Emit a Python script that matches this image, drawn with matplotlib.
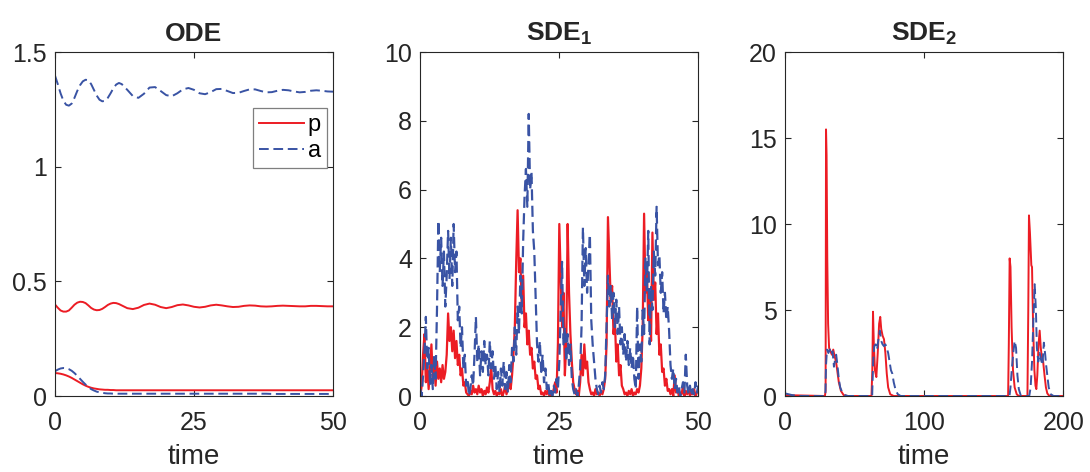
import matplotlib
matplotlib.use('Agg')
import matplotlib.pyplot as plt

plt.rcParams['font.family'] = ['Liberation Sans', 'DejaVu Sans']
plt.rcParams['mathtext.fontset'] = 'custom'
plt.rcParams['mathtext.rm'] = 'Liberation Sans'
plt.rcParams['mathtext.bf'] = 'Liberation Sans:bold'

# ---- ODE panel data ----
ode_t = [0, 0.5, 1, 1.5, 2, 2.5, 3, 3.5, 4, 4.5, 5, 5.5, 6, 6.5, 7, 7.5, 8, 8.5, 9, 9.5, 10, 10.5, 11, 11.5, 12,
         13, 14, 15, 16, 17, 18, 19, 20, 21, 22, 23, 24, 25, 26, 27, 28, 29, 30, 31, 32, 33, 34, 35, 36, 37, 38,
         39, 40, 41, 42, 43, 44, 45, 46, 47, 48, 49, 50]
ode_a_high = [1.397, 1.36, 1.32, 1.288, 1.27, 1.266, 1.275, 1.30, 1.33, 1.355, 1.372, 1.379, 1.377, 1.36, 1.335,
              1.31, 1.292, 1.285, 1.287, 1.30, 1.32, 1.342, 1.358, 1.365, 1.36,
              1.335, 1.308, 1.30, 1.318, 1.345, 1.347, 1.33, 1.312, 1.307, 1.32, 1.337, 1.343, 1.335, 1.32, 1.316,
              1.325, 1.338, 1.339, 1.33, 1.321, 1.322, 1.33, 1.337, 1.337, 1.33, 1.324, 1.325, 1.331, 1.335, 1.333,
              1.328, 1.324, 1.326, 1.331, 1.333, 1.331, 1.328, 1.327]
ode_p_high = [0.399, 0.385, 0.373, 0.368, 0.368, 0.373, 0.385, 0.398, 0.407, 0.411, 0.41, 0.405, 0.395, 0.384,
              0.377, 0.374, 0.375, 0.38, 0.388, 0.397, 0.403, 0.406, 0.405, 0.401, 0.395,
              0.383, 0.379, 0.385, 0.397, 0.403, 0.398, 0.388, 0.383, 0.388, 0.396, 0.399, 0.395, 0.389, 0.386,
              0.389, 0.395, 0.398, 0.395, 0.391, 0.388, 0.389, 0.393, 0.395, 0.394, 0.391, 0.39, 0.391, 0.393,
              0.394, 0.393, 0.392, 0.391, 0.391, 0.393, 0.393, 0.392, 0.391, 0.391]
ode_p_low = [0.10, 0.099, 0.097, 0.094, 0.09, 0.085, 0.079, 0.072, 0.065, 0.058, 0.051, 0.045, 0.04, 0.036, 0.033,
             0.031, 0.029, 0.028, 0.027, 0.027, 0.026, 0.026, 0.025, 0.025, 0.025,
             0.025, 0.025, 0.025, 0.025, 0.025, 0.025, 0.025, 0.025, 0.025, 0.025, 0.025, 0.025, 0.025, 0.025,
             0.025, 0.025, 0.025, 0.025, 0.025, 0.025, 0.025, 0.025, 0.025, 0.025, 0.025, 0.025, 0.025, 0.025,
             0.025, 0.025, 0.025, 0.025, 0.025, 0.025, 0.025, 0.025, 0.025, 0.025]
ode_a_low = [0.108, 0.115, 0.12, 0.122, 0.121, 0.117, 0.11, 0.10, 0.088, 0.075, 0.062, 0.05, 0.039, 0.03, 0.024,
             0.019, 0.016, 0.014, 0.012, 0.011, 0.011, 0.01, 0.01, 0.01, 0.01,
             0.01, 0.01, 0.01, 0.01, 0.01, 0.01, 0.01, 0.01, 0.01, 0.01, 0.01, 0.01, 0.01, 0.01,
             0.01, 0.01, 0.01, 0.01, 0.01, 0.01, 0.01, 0.01, 0.01, 0.01, 0.01, 0.01, 0.009, 0.009,
             0.009, 0.009, 0.009, 0.009, 0.009, 0.009, 0.009, 0.009, 0.009, 0.009]

# ---- SDE_1 panel data, every 0.25 time units from 0 to 50 ----
sde1_t = [i * 0.25 for i in range(201)]
sde1_p = [0.0, 0.3, 1.2, 1.8, 0.4, 0.9, 0.2, 0.8, 1.5, 0.5, 0.9, 0.3, 1.0, 0.5, 0.8, 0.4, 0.9, 0.5, 0.7, 1.2,
          2.4, 1.6, 2.0, 1.3, 1.9, 1.1, 1.6, 0.9, 1.2, 0.6, 0.8, 0.3, 0.4, 0.1, 0.05, 0.0, 0.15, 0.05, 0.3, 0.1,
          0.2, 0.05, 0.3, 0.1, 0.2, 0.0, 0.15, 0.05, 0.25, 0.1, 0.4, 0.85, 0.2, 0.05, 0.15, 0.0, 0.1, 0.05, 0.2, 0.0,
          0.1, 0.3, 0.05, 0.2, 0.4, 0.2, 0.6, 1.2, 2.0, 3.9, 5.4, 3.6, 4.0, 2.6, 3.5, 2.0, 2.4, 1.5, 1.9, 1.2,
          1.4, 0.8, 1.0, 0.5, 0.6, 0.2, 0.3, 0.05, 0.1, 0.0, 0.15, 0.05, 0.2, 0.0, 0.1, 0.05, 0.2, 0.4, 0.1, 1.5,
          5.0, 3.5, 2.0, 3.0, 0.6, 1.5, 5.0, 3.0, 1.8, 1.0, 0.4, 0.2, 0.05, 0.15, 0.0, 0.4, 1.2, 0.6, 1.5, 0.8,
          1.0, 0.4, 0.2, 0.05, 0.1, 0.0, 0.2, 0.05, 0.1, 0.0, 0.15, 0.05, 0.2, 0.5, 1.5, 5.2, 4.0, 2.8, 3.2, 1.8,
          2.2, 1.0, 1.5, 0.6, 0.9, 0.3, 0.2, 0.05, 0.1, 0.0, 0.15, 0.05, 0.2, 0.0, 0.1, 0.05, 0.2, 0.1, 0.3, 0.8,
          2.0, 5.3, 3.0, 3.6, 2.2, 3.0, 1.6, 4.75, 2.8, 3.3, 1.8, 2.4, 1.2, 1.5, 0.7, 0.8, 0.3, 0.5, 0.15, 0.2,
          0.05, 0.2, 0.0, 0.6, 0.1, 0.2, 0.0, 0.1, 0.05, 0.3, 0.0, 0.15, 0.05, 0.2, 0.0, 0.1, 0.05, 0.2, 0.0, 0.1,
          0.15]
sde1_a = [0.2, 0.0, 0.6, 1.3, 2.3, 0.8, 1.4, 0.3, 0.9, 0.2, 1.2, 0.5, 2.5, 5.1, 3.6, 4.6, 3.2, 4.2, 2.6, 3.5,
          4.8, 3.4, 4.6, 3.2, 5.0, 3.6, 4.2, 2.2, 2.6, 1.4, 2.0, 0.8, 1.2, 0.3, 0.5, 0.0, 0.2, 0.6, 0.3, 1.2,
          2.3, 1.0, 1.5, 0.6, 1.3, 0.7, 1.6, 0.9, 1.2, 0.6, 1.6, 0.8, 1.3, 0.5, 0.9, 0.2, 0.7, 0.1, 0.8, 0.3,
          1.0, 0.2, 0.7, 0.1, 0.9, 0.4, 1.4, 1.0, 2.0, 1.2, 2.6, 1.8, 3.5, 2.4, 4.5, 5.8, 6.6, 5.5, 8.2, 6.0,
          6.5, 4.8, 4.2, 2.8, 1.5, 1.0, 1.6, 0.7, 1.2, 0.4, 0.8, 0.2, 0.4, 0.05, 0.2, 0.0, 0.3, 0.1, 0.5, 0.2,
          1.0, 2.5, 3.9, 1.5, 2.0, 1.0, 1.8, 0.9, 1.5, 0.5, 0.2, 0.05, 0.2, 0.0, 0.3, 0.8, 2.0, 4.9, 3.2, 4.3,
          3.0, 3.8, 4.7, 2.2, 1.5, 1.0, 0.5, 0.2, 0.05, 0.3, 0.1, 0.4, 0.2, 0.6, 2.0, 3.5, 2.6, 3.2, 2.2, 3.0,
          2.0, 2.8, 1.8, 2.6, 1.5, 2.0, 1.2, 1.8, 1.0, 1.6, 0.9, 1.4, 0.8, 1.2, 0.5, 0.2, 2.6, 0.5, 1.5, 1.0,
          2.5, 1.8, 4.0, 3.0, 4.8, 1.5, 3.2, 2.5, 4.2, 3.5, 5.5, 3.8, 4.1, 3.0, 3.6, 2.4, 3.0, 2.2, 2.6, 1.9,
          0.9, 0.5, 0.8, 0.2, 0.5, 0.1, 0.3, 0.0, 0.2, 0.4, 0.1, 1.2, 0.3, 0.05, 0.3, 0.0, 0.2, 0.05, 0.4, 0.1,
          0.3]

# ---- SDE_2 panel data ----
sde2_p_t = [0, 28.5, 29.0, 29.3, 29.7, 30.2, 30.8, 31.5, 32.5, 33.5, 34.5, 35.5, 36.5, 37.5, 38.5, 40, 42, 45,
            62.0, 62.6, 63.1, 63.7, 64.5, 65.5, 66.5, 67.5, 68.3, 69.0, 70.0, 71.0, 72.0, 73.0, 74.0, 75.5, 78,
            160.3, 160.8, 161.4, 162.0, 162.8, 163.8, 165, 166.5, 168,
            174.2, 174.8, 175.3, 176.0, 177.0, 177.5, 178.3, 179.2, 180.0, 180.6, 181.3, 182.2, 183.0, 183.8,
            184.5, 185.5, 186.5, 187.5, 188.5, 190, 200]
sde2_p = [0.05, 0.0, 0.3, 15.5, 14.0, 8.0, 4.2, 2.8, 2.6, 2.4, 2.7, 2.3, 2.0, 1.4, 0.8, 0.3, 0.05, 0.0,
          0.0, 1.5, 4.9, 3.0, 1.5, 1.1, 2.5, 4.2, 4.6, 3.9, 3.5, 3.3, 2.5, 1.3, 0.5, 0.1, 0.0,
          0.0, 3.0, 8.0, 7.5, 4.0, 1.5, 0.5, 0.1, 0.0,
          0.0, 5.0, 10.5, 9.5, 7.6, 7.5, 4.0, 1.5, 0.6, 0.4, 1.2, 3.0, 3.8, 2.8,
          2.3, 2.0, 1.2, 0.5, 0.15, 0.0, 0.0]
sde2_a_t = [0, 5, 10, 28.8, 29.3, 30.0, 31, 32, 33, 34, 35, 35.8, 36.6, 37.5, 38.5, 39.5, 41, 43, 45,
            62.5, 63.2, 64, 65, 66, 67, 68, 69, 70, 71, 72, 73, 74, 75, 76, 77, 78, 79.5, 81, 83,
            161.3, 162.0, 163.0, 164.0, 165.0, 166.0, 167.0, 168.0, 169.5,
            175.5, 176.5, 177.5, 178.5, 179.4, 180.3, 181.0, 182.0, 183.0, 184.0, 185.0, 186.0, 187.0, 187.5,
            188.5, 189.5, 191, 193, 200]
sde2_a = [0.15, 0.05, 0.0, 0.0, 1.8, 2.7, 2.5, 2.7, 2.4, 2.6, 1.7, 2.1, 2.4, 1.8, 1.0, 0.5, 0.2, 0.05, 0.0,
          0.0, 2.0, 2.9, 3.0, 2.7, 3.3, 3.8, 3.2, 3.0, 2.9, 3.0, 2.8, 2.5, 2.0, 1.5, 1.3, 0.8, 0.3, 0.1, 0.0,
          0.0, 0.5, 1.6, 2.5, 3.2, 2.8, 1.2, 0.4, 0.0,
          0.0, 0.5, 2.0, 4.5, 6.5, 5.0, 2.8, 2.0, 2.5, 2.1, 1.8, 3.1, 2.4,
          1.9, 1.2, 0.5, 0.1, 0.0, 0.0]

titles = ['ODE', r'$\mathbf{SDE_1}$', r'$\mathbf{SDE_2}$']
xlims = [50, 50, 200]
ylims = [1.5, 10, 20]
xticks = [[0, 25, 50], [0, 25, 50], [0, 100, 200]]
yticks = [[0, 0.5, 1, 1.5], [0, 2, 4, 6, 8, 10], [0, 5, 10, 15, 20]]
yticklabels = [['0', '0.5', '1', '1.5'], None, None]

red = '#ec1c24'
blue = '#3953a4'
dash = (5, 2.4)
txt = '#262626'
lw = 1.4

fig = plt.figure(figsize=(10.9, 4.72), dpi=100)
lefts = [55, 420.3, 785.3]
axes = [fig.add_axes([l / 1090, 76 / 472, 278 / 1090, 344 / 472]) for l in lefts]

ax = axes[0]
ax.plot(ode_t, ode_p_high, color=red, lw=lw, label='p')
ax.plot(ode_t, ode_a_high, color=blue, lw=lw, ls=(0, dash), label='a')
ax.plot(ode_t, ode_p_low, color=red, lw=lw)
ax.plot(ode_t, ode_a_low, color=blue, lw=lw, ls=(0, dash))
leg = ax.legend(loc='upper right', bbox_to_anchor=(0.977, 0.836), borderaxespad=0, fontsize=17,
                handlelength=1.9, handletextpad=0.15, borderpad=0.25, labelspacing=0.15,
                fancybox=False, framealpha=1, edgecolor='#7f7f7f')
leg.get_frame().set_linewidth(0.9)

ax = axes[1]
ax.plot(sde1_t, sde1_p, color=red, lw=1.6)
ax.plot(sde1_t, sde1_a, color=blue, lw=1.6, ls=(0, dash))

ax = axes[2]
ax.plot(sde2_p_t, sde2_p, color=red, lw=lw)
ax.plot(sde2_a_t, sde2_a, color=blue, lw=lw, ls=(0, dash))

for i, ax in enumerate(axes):
    ax.set_xlim(0, xlims[i])
    ax.set_ylim(0, ylims[i])
    ax.set_xticks(xticks[i])
    ax.set_yticks(yticks[i])
    if yticklabels[i]:
        ax.set_yticklabels(yticklabels[i])
    ax.tick_params(direction='in', length=4, width=0.8, top=True, right=True,
                   labelsize=18, colors=txt)
    ax.tick_params(axis='x', pad=11)
    ax.tick_params(axis='y', pad=6)
    for s in ax.spines.values():
        s.set_linewidth(0.8)
        s.set_color(txt)
    ax.set_title(titles[i], fontsize=19, fontweight='bold', color=txt, pad=8)
    ax.set_xlabel('time', fontsize=20, color=txt, labelpad=6)

fig.savefig('out.png', dpi=100)
